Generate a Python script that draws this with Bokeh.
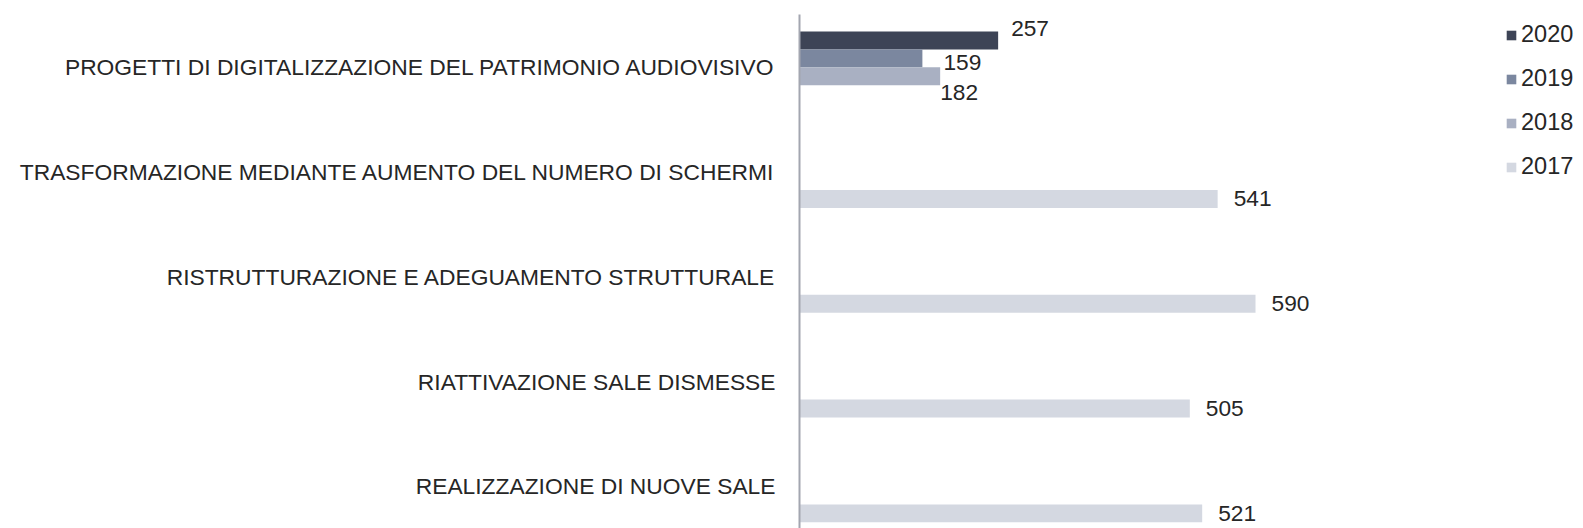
from bokeh.plotting import figure
from bokeh.models import Range1d, FixedTicker, Legend, LegendItem, ColumnDataSource
from bokeh.core.properties import value
from bokeh.embed import file_html
from bokeh.resources import INLINE

# ---- data ----
categories = [
    "PROGETTI DI DIGITALIZZAZIONE DEL PATRIMONIO AUDIOVISIVO",
    "TRASFORMAZIONE MEDIANTE AUMENTO DEL NUMERO DI SCHERMI",
    "RISTRUTTURAZIONE E ADEGUAMENTO STRUTTURALE",
    "RIATTIVAZIONE SALE DISMESSE",
    "REALIZZAZIONE DI NUOVE SALE",
]
years = ["2020", "2019", "2018", "2017"]
v2020 = [257, 0, 0, 0, 0]
v2019 = [159, 0, 0, 0, 0]
v2018 = [182, 0, 0, 0, 0]
v2017 = [0, 541, 590, 505, 521]
series = [v2020, v2019, v2018, v2017]

# ---- style ----
colors = ["#3D4456", "#7B879F", "#A9B0C2", "#D4D8E1"]
FONT = "Liberation Sans"
TXT = "#262626"
bar_h = 0.171
# label nudges (screen px) for crowded first group: (series index, category index) -> (dx, dy)
nudges = {(0, 0): (13, -12), (1, 0): (21, 4), (2, 0): (0, 16)}

n = len(categories)
centers = [n - 1 - i for i in range(n)]

p = figure(width=1575, height=528, output_backend="svg", toolbar_location=None,
           x_range=Range1d(0, 1004), y_range=Range1d(-0.401, 4.504),
           min_border_left=799, min_border_right=0, min_border_top=14, min_border_bottom=0)
p.outline_line_color = None
p.xgrid.visible = False
p.ygrid.visible = False
p.xaxis.visible = False

p.yaxis.ticker = FixedTicker(ticks=centers)
p.yaxis.major_label_overrides = {c: cat for c, cat in zip(centers, categories)}
p.yaxis.major_tick_line_color = None
p.yaxis.minor_tick_line_color = None
p.yaxis.major_tick_out = 0
p.yaxis.major_tick_in = 0
p.yaxis.major_label_standoff = 24
p.yaxis.axis_line_color = "#A3A6B0"
p.yaxis.axis_line_width = 2
p.yaxis.major_label_text_font = FONT
p.yaxis.major_label_text_font_size = "22.8px"
p.yaxis.major_label_text_color = TXT

items = []
for k, (yr, vals, col) in enumerate(zip(years, series, colors)):
    off = (1.5 - k) * bar_h
    ys = [c + off for c in centers]
    r = p.hbar(y=ys, left=0, right=vals, height=bar_h, fill_color=col, line_color=None)
    items.append(LegendItem(label=yr, renderers=[r]))
    lx, ly, lt, dx, dy = [], [], [], [], []
    for i, v in enumerate(vals):
        if v > 0:
            ddx, ddy = nudges.get((k, i), (16, 0))
            lx.append(v); ly.append(ys[i]); lt.append(str(v)); dx.append(ddx); dy.append(ddy)
    src = ColumnDataSource(dict(x=lx, y=ly, t=lt, dx=dx, dy=dy))
    p.text(x="x", y="y", text="t", x_offset="dx", y_offset="dy", source=src,
           text_align="left", text_baseline="middle", text_font=value(FONT),
           text_font_size="22.7px", text_color=TXT)

legend = Legend(items=items, location=(706, 348), orientation="vertical",
                glyph_width=12, glyph_height=12, label_height=20, spacing=17,
                label_standoff=4, padding=0, margin=0,
                border_line_color=None, background_fill_alpha=0,
                label_text_font=FONT, label_text_font_size="23.5px", label_text_color=TXT)
p.add_layout(legend)

open("out.html", "w").write(file_html(p, INLINE))
